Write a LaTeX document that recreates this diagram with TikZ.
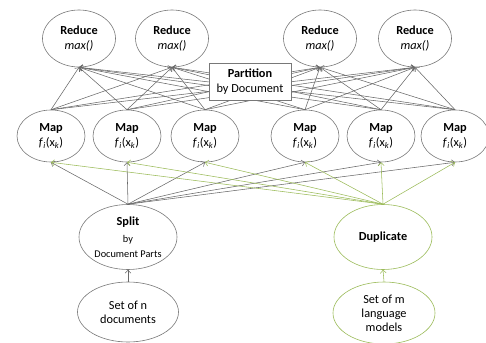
\documentclass[tikz,border=0pt]{standalone}
\usepackage{fontspec}
\setmainfont{Carlito}
\usetikzlibrary{shapes.geometric,arrows.meta}
\definecolor{lgray}{RGB}{105,105,105}
\definecolor{egray}{RGB}{120,120,120}
\definecolor{olive}{RGB}{155,187,89}
\tikzset{
  ell/.style={ellipse,draw=egray,line width=0.6pt,fill=white,inner sep=0pt,align=center,font=\fontsize{12.3}{15}\selectfont},
  redbox/.style={ell,minimum width=73pt,minimum height=57pt},
  mapbox/.style={ell,minimum width=68pt,minimum height=52pt},
  bigbox/.style={ell,minimum width=98pt,minimum height=65pt},
  srcbox/.style={ell,font=\fontsize{12.3}{14}\selectfont},
  grn/.style={draw=olive},
  conn/.style={draw=lgray,line width=0.55pt,-{Straight Barb[length=3pt,width=6pt]}},
  gconn/.style={conn,draw=olive},
  partbox/.style={rectangle,draw=egray,line width=0.6pt,fill=white,minimum width=82pt,minimum height=37pt,align=center,inner sep=0pt,font=\fontsize{12.3}{15}\selectfont}
}
\newcommand{\fx}{\textit{f}\textsubscript{\textit{i}}(x\textsubscript{\textit{k}})}
\newcommand{\smf}{\fontsize{10.3}{12.5}\selectfont}
\begin{document}
\begin{tikzpicture}[x=1pt,y=-1pt]
\useasboundingbox (0,0) rectangle (486,342);
% Reduce
\node[redbox] (r1) at (79,38.5) {\textbf{Reduce}\\\textit{max()}};
\node[redbox] (r2) at (172,38.5) {\textbf{Reduce}\\\textit{max()}};
\node[redbox] (r3) at (320,38.5) {\textbf{Reduce}\\\textit{max()}};
\node[redbox] (r4) at (415,38.5) {\textbf{Reduce}\\\textit{max()}};
% Map
\node[mapbox] (m1) at (51,136) {\textbf{Map}\\\fx};
\node[mapbox] (m2) at (127,136) {\textbf{Map}\\\fx};
\node[mapbox] (m3) at (205,136) {\textbf{Map}\\\fx};
\node[mapbox] (m4) at (305,136) {\textbf{Map}\\\fx};
\node[mapbox] (m5) at (381,136) {\textbf{Map}\\\fx};
\node[mapbox] (m6) at (455,136) {\textbf{Map}\\\fx};
% Split / Duplicate
\node[bigbox] (split) at (128,237) {\textbf{Split}\\[2pt]\smf by\\\smf Document Parts};
\node[bigbox,grn] (dup) at (383,237) {\textbf{Duplicate}};
% Sources
\node[srcbox,minimum width=101pt,minimum height=60pt] (setn) at (128,312) {Set of n\\documents};
\node[srcbox,grn,minimum width=102pt,minimum height=62pt] (setm) at (384,313) {Set of m\\language\\models};
% map -> reduce
\foreach \m in {m1,m2,m3,m4,m5,m6}{
  \foreach \r in {r1,r2,r3,r4}{
    \draw[conn] (\m.north) -- (\r.south);
  }
}
% split -> map, dup -> map
\foreach \m in {m1,m2,m3,m4,m5,m6}{
  \draw[conn] (split.north) -- (\m.south);
}
\foreach \m in {m1,m2,m3,m4,m5,m6}{
  \draw[gconn] (dup.north) -- (\m.south);
}
\draw[conn] (setn.north) -- (split.south);
\draw[gconn] (setm.north) -- (dup.south);
% Partition box on top
\node[partbox] (part) at (250,81.5) {\textbf{Partition}\\by Document};
\end{tikzpicture}
\end{document}
